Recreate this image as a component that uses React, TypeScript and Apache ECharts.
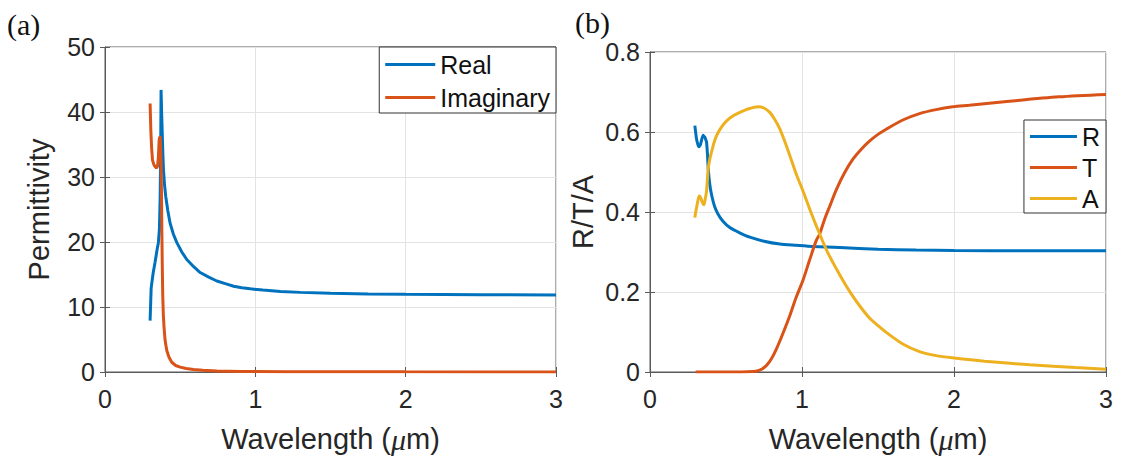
import React, { useEffect, useRef } from "react";
import * as echarts from "echarts";

// (a) permittivity of the film versus wavelength (µm)
const wlReal = [0.300, 0.307, 0.320, 0.333, 0.345, 0.355, 0.362, 0.367, 0.371, 0.373, 0.376, 0.380, 0.385, 0.389, 0.396, 0.404, 0.418, 0.433, 0.455, 0.478, 0.510, 0.544, 0.590, 0.633, 0.690, 0.744, 0.800, 0.856, 0.910, 0.967, 1.050, 1.167, 1.300, 1.500, 1.750, 2.000, 2.500, 3.000];
const epsReal = [7.9, 12.9, 15.2, 16.9, 18.6, 19.9, 22.0, 27.0, 36.0, 43.4, 40.5, 37.3, 33.5, 31.1, 28.8, 27.0, 24.8, 22.9, 21.2, 19.9, 18.5, 17.3, 16.2, 15.3, 14.6, 14.0, 13.6, 13.2, 12.95, 12.8, 12.6, 12.4, 12.25, 12.1, 12.0, 11.95, 11.9, 11.85];

const wlImag = [0.300, 0.305, 0.310, 0.316, 0.325, 0.333, 0.341, 0.349, 0.355, 0.360, 0.364, 0.367, 0.370, 0.373, 0.376, 0.378, 0.381, 0.384, 0.388, 0.393, 0.400, 0.411, 0.425, 0.444, 0.470, 0.500, 0.540, 0.589, 0.650, 0.744, 0.900, 1.200, 2.000, 3.000];
const epsImag = [41.3, 37.1, 34.5, 32.6, 31.9, 31.6, 31.4, 31.6, 33.0, 35.6, 36.2, 36.1, 34.5, 32.1, 27.0, 22.0, 16.5, 11.9, 8.8, 6.8, 4.8, 3.3, 2.3, 1.5, 1.0, 0.75, 0.55, 0.4, 0.28, 0.15, 0.08, 0.04, 0.02, 0.01];

// (b) reflectance, transmittance and absorbance
const wlR = [0.295, 0.300, 0.306, 0.314, 0.322, 0.333, 0.342, 0.350, 0.356, 0.361, 0.366, 0.372, 0.378, 0.383, 0.393, 0.405, 0.425, 0.449, 0.480, 0.525, 0.590, 0.657, 0.750, 0.854, 0.960, 1.070, 1.250, 1.500, 1.750, 2.000, 2.500, 3.000];
const rVals = [0.616, 0.600, 0.583, 0.570, 0.563, 0.570, 0.584, 0.592, 0.588, 0.587, 0.582, 0.575, 0.545, 0.509, 0.470, 0.443, 0.414, 0.394, 0.377, 0.361, 0.348, 0.337, 0.327, 0.320, 0.317, 0.314, 0.311, 0.307, 0.305, 0.304, 0.303, 0.303];

const wlT = [0.300, 0.450, 0.600, 0.680, 0.711, 0.740, 0.766, 0.800, 0.832, 0.875, 0.919, 0.960, 1.007, 1.050, 1.094, 1.116, 1.150, 1.180, 1.226, 1.280, 1.335, 1.390, 1.444, 1.500, 1.554, 1.663, 1.773, 1.882, 1.991, 2.100, 2.364, 2.690, 3.000];
const tVals = [0, 0, 0, 0.001, 0.003, 0.008, 0.016, 0.034, 0.058, 0.097, 0.140, 0.185, 0.230, 0.280, 0.329, 0.345, 0.383, 0.412, 0.456, 0.498, 0.532, 0.557, 0.577, 0.594, 0.607, 0.630, 0.646, 0.656, 0.663, 0.667, 0.677, 0.688, 0.694];

const wlA = [0.295, 0.300, 0.306, 0.315, 0.324, 0.333, 0.343, 0.354, 0.362, 0.372, 0.383, 0.395, 0.405, 0.420, 0.438, 0.470, 0.504, 0.550, 0.591, 0.650, 0.711, 0.750, 0.788, 0.820, 0.854, 0.885, 0.919, 0.960, 1.007, 1.060, 1.116, 1.170, 1.226, 1.280, 1.335, 1.390, 1.444, 1.500, 1.554, 1.663, 1.773, 1.882, 2.000, 2.200, 2.500, 2.800, 3.000];
const aVals = [0.386, 0.398, 0.410, 0.428, 0.440, 0.436, 0.425, 0.418, 0.430, 0.452, 0.509, 0.535, 0.550, 0.572, 0.591, 0.612, 0.628, 0.641, 0.649, 0.658, 0.663, 0.660, 0.649, 0.632, 0.608, 0.578, 0.542, 0.497, 0.452, 0.398, 0.345, 0.298, 0.258, 0.222, 0.189, 0.160, 0.135, 0.116, 0.099, 0.070, 0.051, 0.041, 0.035, 0.027, 0.018, 0.011, 0.007];

const SANS = "'Liberation Sans', Arial, Helvetica, sans-serif";
const SERIF = "'Liberation Serif', 'Times New Roman', serif";
const TEXT = "#262626";
const AXIS = "#5a5a5a";
const GRID = "#e3e3e3";
const BLUE = "#0072BD";
const ORANGE = "#D95319";
const YELLOW = "#EDB120";
const TICK_FONT = 25;
const NAME_FONT = 29;

const pairs = (xs: number[], ys: number[]) => xs.map((x, i) => [x, ys[i]]);

const wavelengthAxis = (gridIndex: number) => ({
  type: "value",
  gridIndex,
  min: 0,
  max: 3,
  interval: 1,
  axisLine: { show: true, onZero: false, lineStyle: { color: AXIS, width: 1 } },
  axisTick: { show: true, inside: true, length: 5, lineStyle: { color: AXIS } },
  axisLabel: { color: TEXT, fontSize: TICK_FONT, fontFamily: SANS, margin: 14 },
  splitLine: { show: true, lineStyle: { color: GRID, width: 1 } },
  name: "{t|Wavelength (}{i|\u03bc}{t|m)}",
  nameLocation: "middle",
  nameGap: 52,
  nameTextStyle: {
    rich: {
      t: { fontSize: NAME_FONT, fontFamily: SANS, color: TEXT },
      i: { fontSize: NAME_FONT + 1, fontFamily: SERIF, fontStyle: "italic", color: TEXT },
    },
  },
});

const valueAxis = (gridIndex: number, max: number, interval: number, name: string, gap: number) => ({
  type: "value",
  gridIndex,
  min: 0,
  max,
  interval,
  axisLine: { show: true, onZero: false, lineStyle: { color: AXIS, width: 1 } },
  axisTick: { show: true, inside: true, length: 5, lineStyle: { color: AXIS } },
  axisLabel: { color: TEXT, fontSize: TICK_FONT, fontFamily: SANS, margin: 10 },
  splitLine: { show: true, lineStyle: { color: GRID, width: 1 } },
  name,
  nameLocation: "middle",
  nameGap: gap,
  nameTextStyle: { fontSize: NAME_FONT, fontFamily: SANS, color: TEXT },
});

// mirrored axes carrying the inward ticks on the top and right edges of each box
const topAxis = (gridIndex: number) => ({
  type: "value",
  gridIndex,
  position: "top",
  min: 0,
  max: 3,
  interval: 1,
  axisLine: { show: false },
  axisTick: { show: true, inside: true, length: 5, lineStyle: { color: AXIS } },
  axisLabel: { show: false },
  splitLine: { show: false },
});
const rightAxis = (gridIndex: number, max: number, interval: number) => ({
  type: "value",
  gridIndex,
  position: "right",
  min: 0,
  max,
  interval,
  axisLine: { show: false },
  axisTick: { show: true, inside: true, length: 5, lineStyle: { color: AXIS } },
  axisLabel: { show: false },
  splitLine: { show: false },
});

const line = (name: string, data: number[][], color: string, xAxisIndex: number, yAxisIndex: number, smooth: number | boolean) => ({
  name,
  type: "line",
  data,
  xAxisIndex,
  yAxisIndex,
  showSymbol: false,
  smooth,
  color,
  lineStyle: { color, width: 3 },
});

const legendBase = {
  orient: "vertical",
  icon: "rect",
  itemHeight: 3,
  backgroundColor: "#ffffff",
  borderColor: "#333333",
  borderWidth: 1,
  borderRadius: 0,
  textStyle: { color: "#111", fontSize: TICK_FONT, fontFamily: SANS, lineHeight: 25 },
};

export default function App() {
  const ref = useRef<HTMLDivElement>(null);

  useEffect(() => {
    document.body.style.margin = "0";
    if (!ref.current) return;
    const chart = echarts.init(ref.current, undefined, { renderer: "svg" });
    chart.setOption({
      animation: false,
      backgroundColor: "#ffffff",
      grid: [
        { left: 105, top: 47, width: 451, height: 326, show: true, borderColor: AXIS, borderWidth: 1, backgroundColor: "transparent" },
        { left: 650, top: 52, width: 456, height: 325, show: true, borderColor: AXIS, borderWidth: 1, backgroundColor: "transparent" },
      ],
      xAxis: [wavelengthAxis(0), wavelengthAxis(1), topAxis(0), topAxis(1)],
      yAxis: [
        valueAxis(0, 50, 10, "Permittivity", 52),
        valueAxis(1, 0.8, 0.2, "R/T/A", 53),
        rightAxis(0, 50, 10),
        rightAxis(1, 0.8, 0.2),
      ],
      legend: [
        {
          ...legendBase,
          data: ["Real", "Imaginary"],
          right: 565,
          top: 47,
          itemWidth: 50,
          itemGap: 8,
          padding: [5, 6, 3, 6],
        },
        {
          ...legendBase,
          data: ["R", "T", "A"],
          right: 15,
          top: 120,
          itemWidth: 47,
          itemGap: 6,
          padding: [4, 6, 2, 6],
        },
      ],
      graphic: [
        { type: "text", left: 7, top: 9, style: { text: "(a)", fontSize: 30, fontFamily: SERIF, fill: "#111" } },
        { type: "text", left: 575, top: 7, style: { text: "(b)", fontSize: 30, fontFamily: SERIF, fill: "#111" } },
      ],
      series: [
        line("Real", pairs(wlReal, epsReal), BLUE, 0, 0, false),
        line("Imaginary", pairs(wlImag, epsImag), ORANGE, 0, 0, false),
        line("R", pairs(wlR, rVals), BLUE, 1, 1, 0.2),
        line("T", pairs(wlT, tVals), ORANGE, 1, 1, 0.3),
        line("A", pairs(wlA, aVals), YELLOW, 1, 1, 0.3),
      ],
    });
    return () => chart.dispose();
  }, []);

  return <div ref={ref} style={{ width: 1121, height: 459 }} />;
}
